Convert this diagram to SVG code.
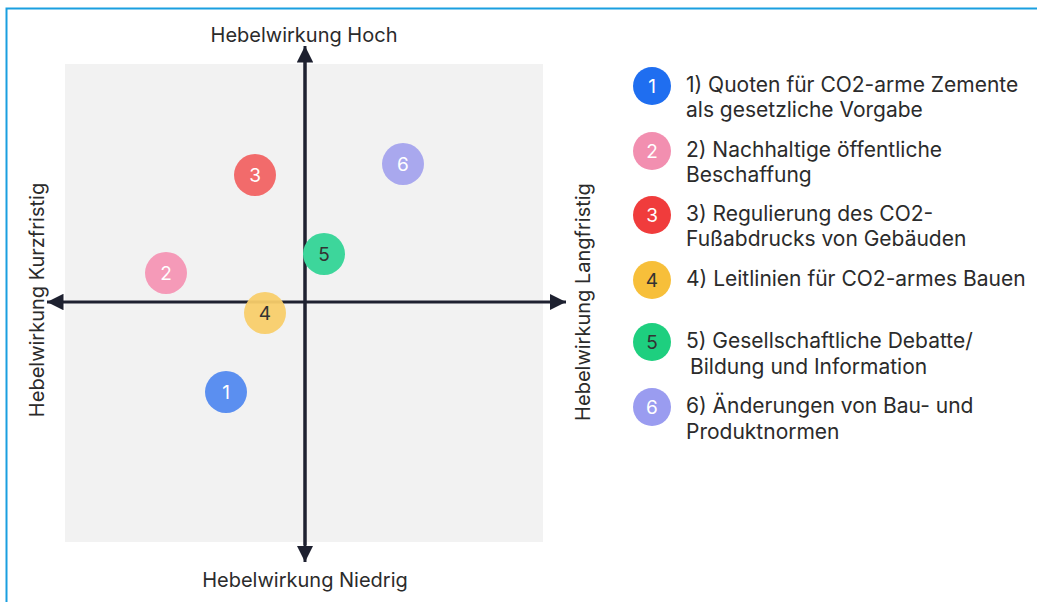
<svg xmlns="http://www.w3.org/2000/svg" width="1037" height="602" viewBox="0 0 1037 602">
<defs>
<marker id="ah" viewBox="0 0 10 10" refX="10" refY="5" markerWidth="5.5" markerHeight="5.5" markerUnits="strokeWidth" orient="auto">
<path d="M0,0 L10,5 L0,10 z" fill="#1e2130"/>
</marker>
<style>
.t{font-family:Inter,"Liberation Sans",sans-serif;fill:#2b2b2b;font-size:21px}
.ax{font-family:Inter,"Liberation Sans",sans-serif;fill:#2b2b2b;font-size:20px}
.n{font-family:Inter,"Liberation Sans",sans-serif;font-size:19px;text-anchor:middle;dominant-baseline:central}
.w{fill:#ffffff}
.d{fill:#333333}
.axis{stroke:#1e2130;stroke-width:3;fill:none}
</style>
</defs>
<rect x="0" y="0" width="1037" height="602" fill="#ffffff"/>
<rect x="6.5" y="8.5" width="1100" height="700" fill="none" stroke="#1a9fe0" stroke-width="2"/>
<rect x="65" y="64" width="478" height="478" fill="#f2f2f2"/>
<g id="connectors">
<line class="axis" x1="305" y1="545" x2="305" y2="46" marker-end="url(#ah)"/>
<line class="axis" x1="305" y1="60" x2="305" y2="562" marker-end="url(#ah)"/>
<line class="axis" x1="300" y1="302" x2="47" y2="302" marker-end="url(#ah)"/>
<line class="axis" x1="300" y1="302" x2="566" y2="302" marker-end="url(#ah)"/>
</g>
<g id="axis-labels">
<text class="ax" x="304" y="42" text-anchor="middle">Hebelwirkung Hoch</text>
<text class="ax" x="305" y="587" text-anchor="middle">Hebelwirkung Niedrig</text>
<text class="ax" transform="translate(44,300) rotate(-90)" text-anchor="middle">Hebelwirkung Kurzfristig</text>
<text class="ax" transform="translate(590,302) rotate(-90)" text-anchor="middle">Hebelwirkung Langfristig</text>
</g>
<g id="p1"><circle cx="226" cy="392" r="21" fill="#5b8ff0"/><text class="n w" x="226" y="392">1</text></g>
<g id="p2"><circle cx="166" cy="273" r="21" fill="#f59ab8"/><text class="n w" x="166" y="273">2</text></g>
<g id="p3"><circle cx="255" cy="175" r="21" fill="#f26b6b"/><text class="n w" x="255" y="175">3</text></g>
<g id="p4"><circle cx="265" cy="313" r="21" fill="#f8cd6a" fill-opacity="0.95"/><text class="n d" x="265" y="313">4</text></g>
<g id="p5"><circle cx="324" cy="254" r="21" fill="#3dd69b"/><text class="n d" x="324" y="254">5</text></g>
<g id="p6"><circle cx="403" cy="164" r="21" fill="#a9a8ee"/><text class="n w" x="403" y="164">6</text></g>
<g id="legend1"><circle cx="652" cy="86" r="19" fill="#1f6ef0"/><text class="n w" x="652" y="86">1</text>
<text class="t" x="686" y="92">1) Quoten für CO2-arme Zemente</text><text class="t" x="686" y="117">als gesetzliche Vorgabe</text></g>
<g id="legend2"><circle cx="652" cy="151" r="19" fill="#f28fb0"/><text class="n w" x="652" y="151">2</text>
<text class="t" x="686" y="157">2) Nachhaltige öffentliche</text><text class="t" x="686" y="182">Beschaffung</text></g>
<g id="legend3"><circle cx="652" cy="215" r="19" fill="#f03c3c"/><text class="n w" x="652" y="215">3</text>
<text class="t" x="686" y="221">3) Regulierung des CO2-</text><text class="t" x="686" y="246">Fußabdrucks von Gebäuden</text></g>
<g id="legend4"><circle cx="652" cy="280" r="19" fill="#f7bf3a"/><text class="n d" x="652" y="280">4</text>
<text class="t" x="686" y="286">4) Leitlinien für CO2-armes Bauen</text></g>
<g id="legend5"><circle cx="652" cy="342" r="19" fill="#1ecf7f"/><text class="n d" x="652" y="342">5</text>
<text class="t" x="686" y="348">5) Gesellschaftliche Debatte/</text><text class="t" x="690" y="374">Bildung und Information</text></g>
<g id="legend6"><circle cx="652" cy="407" r="19" fill="#9a9cf0"/><text class="n w" x="652" y="407">6</text>
<text class="t" x="686" y="413">6) Änderungen von Bau- und</text><text class="t" x="686" y="439">Produktnormen</text></g>
</svg>
